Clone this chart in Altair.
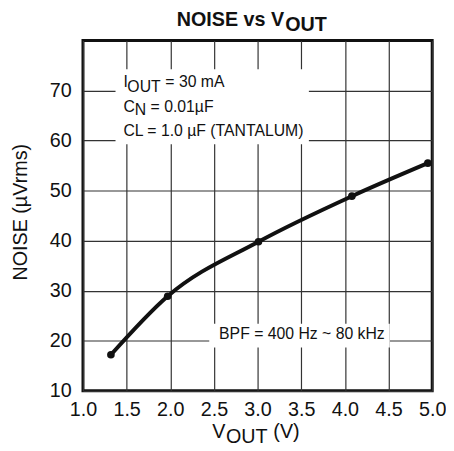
import altair as alt
import pandas as pd

# Data
vout = [1.32, 1.97, 3.01, 4.08, 4.95]
noise = [17.2, 28.9, 39.8, 48.9, 55.5]
x_ticks = [1.0, 1.5, 2.0, 2.5, 3.0, 3.5, 4.0, 4.5, 5.0]
y_ticks = [10, 20, 30, 40, 50, 60, 70]

FONT = "Liberation Sans"
W, H = 354, 355

df = pd.DataFrame({"vout": vout, "noise": noise})

xscale = alt.Scale(domain=[1.0, 5.0], nice=False, zero=False)
yscale = alt.Scale(domain=[10, 80], nice=False, zero=False)

xaxis = alt.Axis(values=x_ticks, format=".1f", title=None, grid=True,
                 gridColor="#333", gridWidth=1.2, ticks=False, domain=False,
                 labelFont=FONT, labelFontSize=20, labelColor="#111",
                 labelPadding=9, labelOverlap=False, labelFlush=False,
                 labelBound=False)
yaxis = alt.Axis(values=y_ticks, title=None, grid=True,
                 gridColor="#333", gridWidth=1.2, ticks=False, domain=False,
                 labelFont=FONT, labelFontSize=20, labelColor="#111",
                 labelPadding=12, labelFlush=False)

base = alt.Chart(df)

line = base.mark_line(color="#111", strokeWidth=4, interpolate="monotone").encode(
    x=alt.X("vout:Q", scale=xscale, axis=xaxis),
    y=alt.Y("noise:Q", scale=yscale, axis=yaxis),
)
pts = base.mark_point(filled=True, color="#111", size=60, opacity=1).encode(
    x=alt.X("vout:Q", scale=xscale),
    y=alt.Y("noise:Q", scale=yscale),
)


def box(x1, x2, y1, y2):
    return alt.Chart(pd.DataFrame({"k": [0]})).mark_rect(fill="white").encode(
        x=alt.value(x1), x2=alt.value(x2), y=alt.value(y1), y2=alt.value(y2)
    )


def label(text, x, y, size, weight="normal", angle=0, align="left"):
    return alt.Chart(pd.DataFrame({"t": [text]})).mark_text(
        font=FONT, fontSize=size, fontWeight=weight, angle=angle, align=align,
        baseline="alphabetic", color="#111"
    ).encode(text="t:N", x=alt.value(x), y=alt.value(y))


layers = [
    box(33, 229, 29, 105),
    box(128, 311, 287, 311),
    line,
    pts,
    # title
    label("NOISE vs V", 95, -15, 20, "bold"),
    label("OUT", 205, -10, 20, "bold"),
    # annotations
    label("I", 41, 47, 16),
    label("OUT", 45, 52, 16),
    label("= 30 mA", 83.5, 47, 16),
    label("C", 41, 72, 16),
    label("N", 52.5, 75, 16),
    label("= 0.01\u00b5F", 68.5, 72, 16),
    label("CL = 1.0 \u00b5F (TANTALUM)", 41, 97, 16),
    label("BPF = 400 Hz ~ 80 kHz", 138, 302, 16),
    # axis titles
    label("V", 131, 403, 20),
    label("OUT", 145, 408, 20),
    label("(V)", 193, 403, 20),
    label("NOISE (\u00b5Vrms)", -57, 174, 20, angle=270, align="center"),
]

chart = alt.layer(*layers).properties(
    width=W, height=H,
    autosize=alt.AutoSizeParams(type="none"),
    padding={"left": 76, "top": 30, "right": 14, "bottom": 58},
).configure_view(stroke="#111", strokeWidth=3)

chart.save("out.html", embed_options={"renderer": "svg", "actions": False})
